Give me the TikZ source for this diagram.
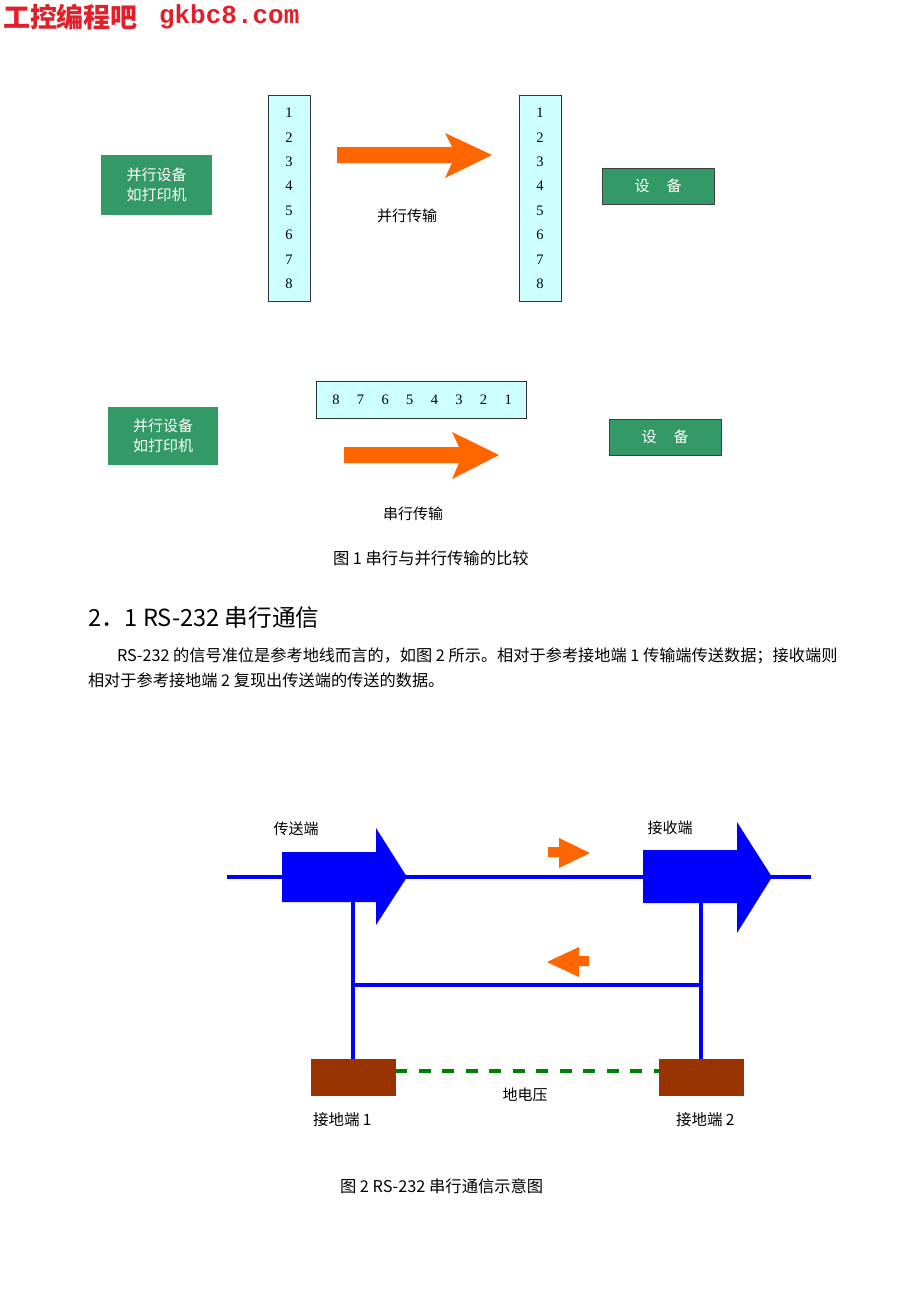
\documentclass[tikz,border=0pt]{standalone}
\usepackage{fontspec}
\setmainfont{Liberation Serif}
\newfontfamily\cjk{Noto Sans CJK SC}
\newfontfamily\monof{Liberation Mono}
\definecolor{hdrred}{HTML}{E0202A}
\definecolor{boxgreen}{HTML}{339966}
\definecolor{lcyan}{HTML}{CCFFFF}
\definecolor{arrorange}{HTML}{FF6600}
\definecolor{wireblue}{HTML}{0000FF}
\definecolor{brownbox}{HTML}{993300}
\definecolor{gndgreen}{HTML}{008000}
\begin{document}
\begin{tikzpicture}[x=1pt,y=-1pt,
  every node/.style={inner sep=0pt, outer sep=0pt},
  gbox/.style={fill=boxgreen, text=white, font=\cjk\fontsize{15}{20}\selectfont, align=center},
  devbox/.style={fill=boxgreen, draw=black!75, line width=0.8pt, text=white, font=\cjk\fontsize{15}{18}\selectfont, minimum width=112pt, minimum height=36pt},
  colbox/.style={fill=lcyan, draw=black!80, line width=0.8pt},
  num/.style={font=\fontsize{14.5}{14.5}\selectfont},
  lbl/.style={font=\cjk\fontsize{15}{18}\selectfont},
  txt/.style={font=\cjk\fontsize{16.2}{18}\selectfont, anchor=west},
  captxt/.style={font=\cjk\fontsize{16.3}{18}\selectfont, anchor=west},
  wire/.style={draw=wireblue, line width=4pt},
  gnd/.style={fill=brownbox, draw=black!70, line width=0.8pt, minimum width=84pt, minimum height=36pt}
]
\useasboundingbox[fill=white] (0,0) rectangle (920,1302);

% header
\node[anchor=west, text=hdrred, font=\cjk\bfseries\fontsize{27}{27}\selectfont] (hdr) at (3,17)
  {工控编程吧};
\node[anchor=west, text=hdrred, font=\monof\bfseries\fontsize{26}{26}\selectfont] (hdr2) at (159,17)
  {gkbc8.com};

% ---------- Figure 1, parallel ----------
\node[gbox, minimum width=111pt, minimum height=60pt] (dev1) at (156.5,185) {并行设备\\如打印机};
\node[colbox, minimum width=42pt, minimum height=206pt] (colL) at (289,198) {};
\foreach \i in {1,...,8} {
  \node[num] (nL\i) at (289,{113+24.4*(\i-1)}) {\i};
}
\fill[arrorange] (337,147) -- (452,147) -- (445,133) -- (492,155) -- (445,178) -- (452,163) -- (337,163) -- cycle;
\node[lbl] (ptxt) at (407,216) {并行传输};
\node[colbox, minimum width=42pt, minimum height=206pt] (colR) at (540,198) {};
\foreach \i in {1,...,8} {
  \node[num] (nR\i) at (540,{113+24.4*(\i-1)}) {\i};
}
\node[devbox] (dev2) at (658,186) {设\hspace{17pt}备};

% ---------- Figure 1, serial ----------
\node[gbox, minimum width=110pt, minimum height=58pt] (dev3) at (163,436) {并行设备\\如打印机};
\node[colbox, minimum width=210pt, minimum height=37pt] (row) at (421,399.5) {};
\foreach \i [count=\k from 0] in {8,7,6,5,4,3,2,1} {
  \node[num] (s\i) at ({336+24.6*\k},400) {\i};
}
\fill[arrorange] (344,447) -- (459,447) -- (452,432) -- (499,455) -- (452,479) -- (459,463) -- (344,463) -- cycle;
\node[devbox] (dev4) at (665,437) {设\hspace{17pt}备};
\node[lbl] (stxt) at (413,514) {串行传输};

\node[captxt] (cap1) at (333,558) {图 1 串行与并行传输的比较};

% ---------- Section text ----------
\node[anchor=west, font=\cjk\fontsize{23.6}{24}\selectfont] (head) at (88,618) {2．1 RS-232 串行通信};
\node[txt] (p1) at (117,656) {RS-232 的信号准位是参考地线而言的，如图 2 所示。相对于参考接地端 1 传输端传送数据；接收端则};
\node[txt] (p2) at (88,680) {相对于参考接地端 2 复现出传送端的传送的数据。};

% ---------- Figure 2 ----------
\coordinate (lineL) at (227,877);
\coordinate (lineR) at (811,877);
\draw[wire] (lineL) -- (lineR);
\fill[wireblue] (282,852) -- (376,852) -- (376,828) -- (407,877) -- (376,925) -- (376,902) -- (282,902) -- cycle;
\fill[wireblue] (643,850) -- (737,850) -- (737,822) -- (772,877) -- (737,933) -- (737,903) -- (643,903) -- cycle;
\coordinate (tx) at (353,902);
\coordinate (rx) at (701,903);
\node[gnd] (g1) at (353,1077) {};
\node[gnd] (g2) at (701.5,1077) {};
\draw[wire] (tx) -- (g1.north);
\draw[wire] (rx) -- (rx |- g2.north);
\draw[wire] (353,985) -- (701,985);
\draw[draw=gndgreen, line width=4pt, dash pattern=on 12pt off 11.5pt] (g1.east |- 0,1071) -- (g2.west |- 0,1071);
% small orange arrows
\fill[arrorange] (548,847) -- (559,847) -- (559,838) -- (590,853) -- (559,868) -- (559,857) -- (548,857) -- cycle;
\fill[arrorange] (589,956) -- (579,956) -- (579,947) -- (547,962) -- (579,977) -- (579,966) -- (589,966) -- cycle;

\node[lbl] (tl) at (296,829) {传送端};
\node[lbl] (rl) at (670,828) {接收端};
\node[lbl] (gv) at (525,1095) {地电压};
\node[anchor=west, font=\cjk\fontsize{15.5}{18}\selectfont] (g1l) at (313,1120) {接地端 1};
\node[anchor=west, font=\cjk\fontsize{15.5}{18}\selectfont] (g2l) at (676,1120) {接地端 2};
\node[captxt] (cap2) at (340,1186) {图 2 RS-232 串行通信示意图};
\end{tikzpicture}
\end{document}
